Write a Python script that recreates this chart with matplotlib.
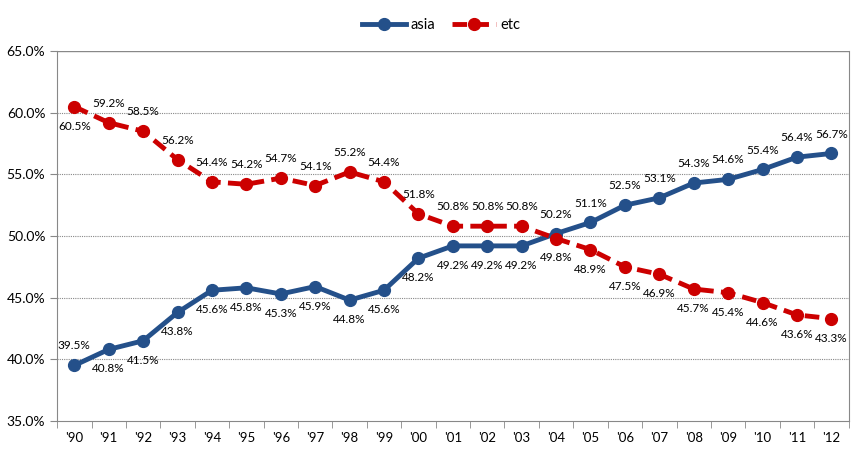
import matplotlib.pyplot as plt
import numpy as np
from matplotlib.ticker import FuncFormatter, MultipleLocator

years = ["'90", "'91", "'92", "'93", "'94", "'95", "'96", "'97", "'98", "'99", "'00",
         "'01", "'02", "'03", "'04", "'05", "'06", "'07", "'08", "'09", "'10", "'11", "'12"]
asia = [39.5, 40.8, 41.5, 43.8, 45.6, 45.8, 45.3, 45.9, 44.8, 45.6, 48.2, 49.2,
        49.2, 49.2, 50.2, 51.1, 52.5, 53.1, 54.3, 54.6, 55.4, 56.4, 56.7]
etc = [60.5, 59.2, 58.5, 56.2, 54.4, 54.2, 54.7, 54.1, 55.2, 54.4, 51.8, 50.8,
       50.8, 50.8, 49.8, 48.9, 47.5, 46.9, 45.7, 45.4, 44.6, 43.6, 43.3]

plt.rcParams['font.family'] = ['Lato', 'DejaVu Sans']
blue = '#24508a'
red = '#cc0000'

fig = plt.figure(figsize=(8.65, 4.57), dpi=100)
ax = fig.add_axes([0.066, 0.079, 0.915, 0.809])
x = np.arange(len(years))

ax.plot(x, asia, color=blue, lw=3.5, marker='o', ms=8.5, label='asia', zorder=3)
ax.plot(x, etc, color=red, lw=3.5, ls=(0, (3, 1.5)), marker='o', ms=8.5, label='etc', zorder=4)

# label placement: swap sides after the lines cross
for i in range(len(x)):
    a_up = i == 0 or i >= 14
    ax.annotate('%.1f%%' % asia[i], (x[i], asia[i]), xytext=(0, 14 if a_up else -14),
                textcoords='offset points', ha='center', va='center', fontsize=8.5)
    ax.annotate('%.1f%%' % etc[i], (x[i], etc[i]), xytext=(0, -14 if a_up else 14),
                textcoords='offset points', ha='center', va='center', fontsize=8.5)

ax.set_xlim(-0.5, len(x) - 0.5)
ax.set_ylim(35, 65)
ax.yaxis.set_major_locator(MultipleLocator(5))
ax.yaxis.set_major_formatter(FuncFormatter(lambda v, p: '%.1f%%' % v))
ax.set_xticks(x)
ax.set_xticklabels(years)
ax.set_xticks(np.arange(-0.5, len(x), 1), minor=True)
ax.tick_params(axis='x', which='major', length=0, pad=8, labelsize=9.5)
ax.tick_params(axis='x', which='minor', length=5, color='#888888', direction='out')
ax.tick_params(axis='y', length=5, color='#888888', labelsize=10)

for v in range(40, 65, 5):
    ax.axhline(v, color='#888888', lw=0.8, ls=(0, (1, 1)), zorder=0)
ax.axhline(65, color='#888888', lw=1, zorder=0)

for s in ['left', 'bottom', 'right']:
    ax.spines[s].set_color('#888888')
ax.spines['top'].set_visible(False)

fig.legend(loc='upper center', bbox_to_anchor=(0.51, 0.99), ncol=2, frameon=False,
           fontsize=10.5, handlelength=3, columnspacing=1.2, handletextpad=0.3)

fig.savefig('out.png', dpi=100)
